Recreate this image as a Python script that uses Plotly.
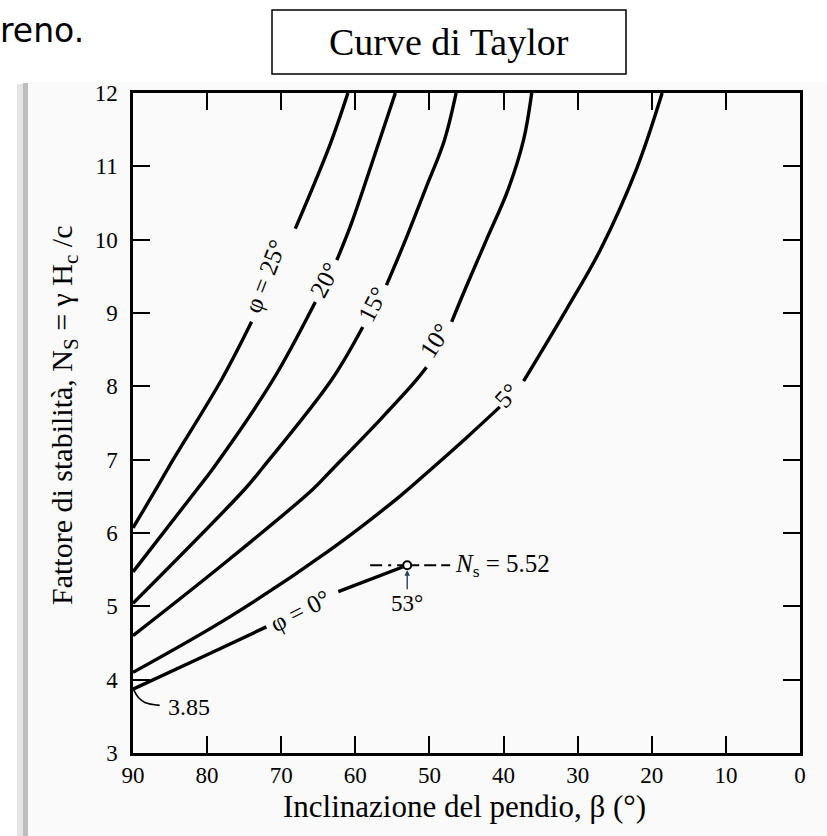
import plotly.graph_objects as go

# ---------------- data ----------------
beta_25 = [90, 87, 85, 78, 74, None, 68.1, 63.4, 61.0]
ns_25 = [6.07, 6.58, 6.93, 8.1, 8.88, None, 10.15, 11.3, 12.0]

beta_20 = [90, 81.4, 79.2, 71.1, 65.4, None, 62.5, 60.5, 58.2, 54.6]
ns_20 = [5.47, 6.59, 6.88, 8.09, 9.15, None, 9.72, 10.23, 10.91, 12.0]

beta_15 = [90, 74.9, 72.5, 63.2, 59.0, None, 55.8, 53.3, 50.5, 48.0, 46.4]
ns_15 = [5.04, 6.6, 6.89, 8.09, 8.81, None, 9.38, 9.98, 10.7, 11.35, 12.0]

beta_10 = [90, 78, 65.8, 63.0, 56.7, 51.9, 50.4, None, 47.0, 45.2, 42.3, 39.4, 37.3, 36.2]
ns_10 = [4.6, 5.56, 6.59, 6.88, 7.54, 8.07, 8.26, None, 8.88, 9.32, 10.0, 10.68, 11.36, 12.0]

beta_5 = [90, 76.9, 63.4, 54.0, 49.9, 45.0, 40.5, None, 37.3, 31.5, 27.0, 22.0, 18.6]
ns_5 = [4.1, 4.86, 5.77, 6.5, 6.86, 7.3, 7.72, None, 8.07, 9.05, 9.85, 10.98, 12.0]

beta_0 = [90, 80, 72.0, None, 62.3, 53.0]
ns_0 = [3.87, 4.34, 4.72, None, 5.2, 5.56]

crit_beta = 53.0
crit_ns = 5.56
crit_left_beta = [58.0, 53.0]
crit_right_beta = [53.0, 47.2]

leader_beta = [89.9, 89.3, 88.4, 86.4]
leader_ns = [3.86, 3.76, 3.69, 3.65]

curve_labels = ["φ = 25°", "20°", "15°", "10°", "5°", "φ = 0°"]
label_beta = [72.2, 64.2, 57.7, 49.2, 39.6, 67.4]
label_ns = [9.5, 9.45, 9.12, 8.62, 7.88, 4.95]
label_angle = [-69, -62, -63, -57, -47, -27]

x_ticks = [90, 80, 70, 60, 50, 40, 30, 20, 10, 0]
y_ticks = [3, 4, 5, 6, 7, 8, 9, 10, 11, 12]

# ---------------- figure ----------------
W, H = 827, 836
L, R, T, B = 133, 27, 93, 83
PW, PH = W - L - R, H - T - B


def px(x):
    return (x - L) / PW


def py(y):
    return (H - B - y) / PH


SERIF = "Liberation Serif, Times New Roman, serif"
fig = go.Figure()

line_style = dict(color="black", width=3.4, shape="spline", smoothing=1.0)
for bx, ny in [(beta_25, ns_25), (beta_20, ns_20), (beta_15, ns_15),
               (beta_10, ns_10), (beta_5, ns_5), (beta_0, ns_0)]:
    fig.add_trace(go.Scatter(x=bx, y=ny, mode="lines", line=line_style,
                             connectgaps=False, showlegend=False, hoverinfo="skip"))

# critical-point dashed lines
fig.add_trace(go.Scatter(x=crit_left_beta, y=[crit_ns] * 2, mode="lines",
                         line=dict(color="black", width=2.2, dash="12px,6px,3px,6px"),
                         showlegend=False, hoverinfo="skip"))
fig.add_trace(go.Scatter(x=crit_right_beta, y=[crit_ns] * 2, mode="lines",
                         line=dict(color="black", width=2.2, dash="12px,5px"),
                         showlegend=False, hoverinfo="skip"))
fig.add_trace(go.Scatter(x=[crit_beta], y=[crit_ns], mode="markers",
                         marker=dict(size=8, color="white", line=dict(color="black", width=2)),
                         showlegend=False, hoverinfo="skip"))
# leader for 3.85
fig.add_trace(go.Scatter(x=leader_beta, y=leader_ns, mode="lines",
                         line=dict(color="black", width=1.6, shape="spline"),
                         showlegend=False, hoverinfo="skip"))

ann = []
for t, bx, ny, a in zip(curve_labels, label_beta, label_ns, label_angle):
    ann.append(dict(x=bx, y=ny, text=t, showarrow=False, textangle=a,
                    xanchor="center", yanchor="middle",
                    font=dict(family=SERIF, size=25, color="black")))

ann.append(dict(x=crit_right_beta[1], y=crit_ns, xanchor="left", yanchor="middle",
                text="<i>N</i><sub>s</sub> = 5.52",
                showarrow=False, xshift=3, font=dict(family=SERIF, size=25, color="black")))
ann.append(dict(x=crit_beta, y=crit_ns, text="53°", showarrow=True, ax=0, ay=38,
                arrowhead=2, arrowsize=0.8, arrowwidth=1.4, standoff=5,
                font=dict(family=SERIF, size=23, color="black")))
ann.append(dict(x=leader_beta[-1], y=leader_ns[-1], xanchor="left", yanchor="middle",
                text="3.85", showarrow=False, xshift=6, yshift=-2,
                font=dict(family=SERIF, size=24, color="black")))

# axis titles
ann.append(dict(xref="paper", yref="paper", x=px(64), y=py(416), textangle=-90,
                xanchor="center", yanchor="middle",
                text="Fattore di stabilità, N<sub>S</sub> = γ H<sub>c</sub> /c",
                showarrow=False, font=dict(family=SERIF, size=30, color="black")))
ann.append(dict(xref="paper", yref="paper", x=px(464), y=py(806),
                xanchor="center", yanchor="middle",
                text="Inclinazione del pendio, β (°)",
                showarrow=False, font=dict(family=SERIF, size=31, color="black")))
# header
ann.append(dict(xref="paper", yref="paper", x=px(449), y=py(42),
                xanchor="center", yanchor="middle",
                text="Curve di Taylor", showarrow=False,
                font=dict(family=SERIF, size=38, color="black")))
ann.append(dict(xref="paper", yref="paper", x=px(-2), y=py(31), xanchor="left", yanchor="middle",
                text="reno.", showarrow=False,
                font=dict(family="DejaVu Sans, Verdana, sans-serif", size=33, color="black")))

shapes = [
    # card background
    dict(type="rect", xref="paper", yref="paper", x0=px(27), x1=px(827), y0=py(836), y1=py(82),
         fillcolor="#fafafa", line=dict(width=0), layer="below"),
    # shadow on the left
    dict(type="rect", xref="paper", yref="paper", x0=px(17), x1=px(23), y0=py(836), y1=py(84),
         fillcolor="#e4e4e4", line=dict(width=0), layer="below"),
    dict(type="rect", xref="paper", yref="paper", x0=px(23), x1=px(28), y0=py(836), y1=py(83),
         fillcolor="#bdbdbd", line=dict(width=0), layer="below"),
    # header box
    dict(type="rect", xref="paper", yref="paper", x0=px(272), x1=px(626), y0=py(74), y1=py(10),
         fillcolor="white", line=dict(color="black", width=1.5)),
]

axis_common = dict(showgrid=False, zeroline=False, showline=True, linecolor="black", linewidth=2.5,
                   ticks="inside", ticklen=17, tickwidth=2, tickcolor="black", mirror="ticks",
                   tickfont=dict(family=SERIF, size=23, color="black"))

fig.update_layout(
    width=W, height=H,
    margin=dict(l=L, r=R, t=T, b=B),
    paper_bgcolor="white", plot_bgcolor="rgba(0,0,0,0)",
    xaxis=dict(range=[90, 0], tickvals=x_ticks, **axis_common),
    yaxis=dict(range=[3, 12], tickvals=y_ticks, ticklabelstandoff=8, **axis_common),
    annotations=ann, shapes=shapes, showlegend=False,
)

fig.write_html("out.html", config={"displayModeBar": False},
               post_script="document.body.style.margin='0';")
